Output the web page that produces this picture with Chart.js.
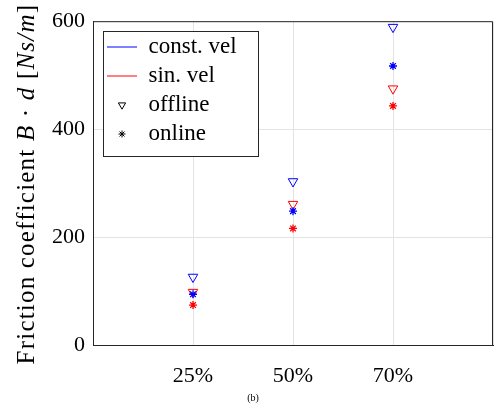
<!DOCTYPE html>
<html>
<head>
<meta charset="utf-8">
<script src="https://cdn.jsdelivr.net/npm/chart.js@4"></script>
<style>
  html, body { margin: 0; padding: 0; background: #fff; }
  canvas { display: block; }
</style>
</head>
<body>
<canvas id="chart" width="498" height="408"></canvas>
<script>
// categories on the x axis
const levels = ['25%', '50%', '70%'];
// friction coefficient B*d [Ns/m]
const constOffline = [126, 303, 589];
const constOnline = [94, 248, 517];
const sinOffline = [98, 261, 475];
const sinOnline = [74, 216, 443];
const yTicks = [0, 200, 400, 600];
const legendNames = ['const. vel', 'sin. vel', 'offline', 'online'];

const SERIF = "'Liberation Serif', 'DejaVu Serif', serif";

function points(arr) {
  return arr.map((v, i) => ({ x: i + 1, y: v }));
}

// small marker picture for the legend (so the wide line box does not stretch it)
function markerImage(style, rotation, radius) {
  const c = document.createElement('canvas');
  c.width = 12; c.height = 12;
  const g = c.getContext('2d');
  g.strokeStyle = '#000';
  g.fillStyle = style === 'star' ? '#000' : 'rgba(0,0,0,0)';
  g.lineWidth = 1;
  Chart.helpers.drawPoint(g, { pointStyle: style, rotation: rotation, radius: radius, borderWidth: 1 }, 6, 6);
  return c;
}
const offlineMark = markerImage('triangle', 180, 4.2);
const onlineMark = markerImage('star', 0, 3.5);

// legend box inside the axes + box frame + y label with italic parts
const framePlugin = {
  id: 'frame',
  afterLayout(chart) {
    const lg = chart.legend;
    lg.left = 101; lg.top = 29.5; lg.right = 258; lg.bottom = 160;
    lg.width = lg.right - lg.left; lg.height = lg.bottom - lg.top;
    if (!lg._boxed) {
      const draw = lg.draw.bind(lg);
      lg.draw = function () {
        const ctx = chart.ctx;
        ctx.save();
        ctx.fillStyle = '#fff';
        ctx.strokeStyle = '#262626';
        ctx.lineWidth = 1;
        ctx.fillRect(103.5, 31.5, 155, 125);
        ctx.strokeRect(103.5, 31.5, 155, 125);
        ctx.restore();
        draw();
      };
      lg._boxed = true;
    }
  },
  afterDraw(chart) {
    const ctx = chart.ctx;
    const a = chart.chartArea;
    ctx.save();
    ctx.strokeStyle = '#262626';
    ctx.lineWidth = 1;
    ctx.beginPath();
    ctx.moveTo(a.left, a.top + 0.5);
    ctx.lineTo(a.right - 0.5, a.top + 0.5);
    ctx.lineTo(a.right - 0.5, a.bottom);
    ctx.stroke();

    // y axis title
    const parts = [
      ['Friction coefficient ', false],
      ['B', true],
      [' \u00b7 ', false],
      ['d', true],
      [' [', false],
      ['Ns/m', true],
      [']', false]
    ];
    const size = 25;
    ctx.letterSpacing = '1.2px';
    let total = 0;
    parts.forEach(p => {
      ctx.font = (p[1] ? 'italic ' : '') + size + 'px ' + SERIF;
      total += ctx.measureText(p[0]).width;
    });
    ctx.translate(34, (a.top + a.bottom) / 2 + 1);
    ctx.rotate(-Math.PI / 2);
    ctx.fillStyle = '#000';
    ctx.textBaseline = 'alphabetic';
    let x = -total / 2;
    parts.forEach(p => {
      ctx.font = (p[1] ? 'italic ' : '') + size + 'px ' + SERIF;
      ctx.fillText(p[0], x, 0);
      x += ctx.measureText(p[0]).width;
    });
    ctx.restore();

    // caption
    ctx.save();
    ctx.font = '10px ' + SERIF;
    ctx.fillStyle = '#000';
    ctx.textAlign = 'center';
    ctx.textBaseline = 'middle';
    ctx.fillText('(b)', 253, 398);
    ctx.restore();
  }
};

const ctx = document.getElementById('chart').getContext('2d');
const chart = new Chart(ctx, {
  type: 'scatter',
  data: {
    datasets: [
      { label: 'const offline', data: points(constOffline), pointStyle: 'triangle', rotation: 180,
        radius: 5.5, borderColor: '#0000ff', backgroundColor: 'rgba(0,0,0,0)', borderWidth: 1 },
      { label: 'const online', data: points(constOnline), pointStyle: 'star',
        radius: 4, borderColor: '#0000ff', backgroundColor: '#0000ff', borderWidth: 1.3 },
      { label: 'sin offline', data: points(sinOffline), pointStyle: 'triangle', rotation: 180,
        radius: 5.5, borderColor: '#ff0000', backgroundColor: 'rgba(0,0,0,0)', borderWidth: 1 },
      { label: 'sin online', data: points(sinOnline), pointStyle: 'star',
        radius: 4, borderColor: '#ff0000', backgroundColor: '#ff0000', borderWidth: 1.3 }
    ]
  },
  options: {
    responsive: false,
    devicePixelRatio: 1,
    animation: false,
    layout: { autoPadding: false, padding: { left: 1, top: 20, right: 5, bottom: 0 } },
    scales: {
      x: {
        type: 'linear',
        min: 0,
        max: 4,
        afterFit(scale) { scale.height = 63; scale.paddingLeft = 0; scale.paddingRight = 0; },
        afterBuildTicks(scale) { scale.ticks = [0, 1, 2, 3, 4].map(v => ({ value: v })); },
        ticks: {
          padding: 18,
          color: '#000',
          font: { family: SERIF, size: 22 },
          callback: v => levels[v - 1] || ''
        },
        grid: { color: '#e3e3e3', drawTicks: false },
        border: { color: '#262626', width: 1 }
      },
      y: {
        min: 0,
        max: 600,
        afterFit(scale) { scale.width = 92; },
        afterBuildTicks(scale) { scale.ticks = yTicks.map(v => ({ value: v })); },
        ticks: {
          padding: 8,
          color: '#000',
          font: { family: SERIF, size: 22 }
        },
        grid: { color: '#e3e3e3', drawTicks: false },
        border: { color: '#262626', width: 1 }
      }
    },
    plugins: {
      tooltip: { enabled: false },
      legend: {
        position: 'chartArea',
        align: 'start',
        labels: {
          usePointStyle: true,
          pointStyleWidth: 30,
          boxHeight: 6,
          padding: 6,
          color: '#000',
          font: { family: SERIF, size: 23 },
          generateLabels: () => [
            { text: legendNames[0], pointStyle: 'line', strokeStyle: '#0000ff', fillStyle: '#0000ff', lineWidth: 1, hidden: false },
            { text: legendNames[1], pointStyle: 'line', strokeStyle: '#ff0000', fillStyle: '#ff0000', lineWidth: 1, hidden: false },
            { text: legendNames[2], pointStyle: offlineMark, strokeStyle: '#000', fillStyle: '#000', lineWidth: 1, hidden: false },
            { text: legendNames[3], pointStyle: onlineMark, strokeStyle: '#000', fillStyle: '#000', lineWidth: 1, hidden: false }
          ]
        }
      }
    }
  },
  plugins: [framePlugin]
});
</script>
</body>
</html>
